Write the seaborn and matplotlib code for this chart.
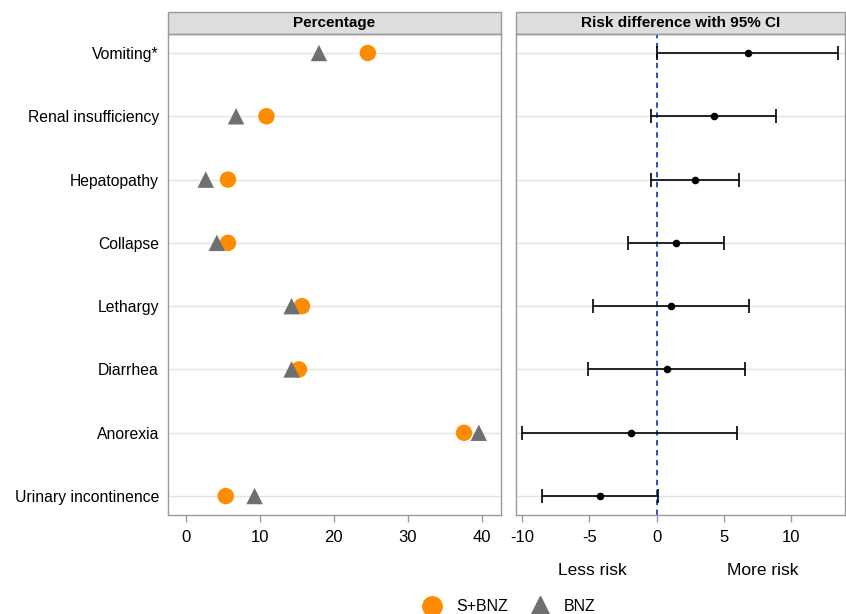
#!/usr/bin/env python3
"""adverse events: percentages by group and risk difference with 95% CI"""

import matplotlib.pyplot as plt
import numpy as np
import pandas as pd
import seaborn as sns
from matplotlib.lines import Line2D
from matplotlib.patches import Rectangle

events = ["Vomiting*", "Renal insufficiency", "Hepatopathy", "Collapse",
          "Lethargy", "Diarrhea", "Anorexia", "Urinary incontinence"]
pct_sbnz = [24.6, 10.9, 5.7, 5.7, 15.7, 15.3, 37.6, 5.4]
pct_bnz = [18.0, 6.8, 2.7, 4.2, 14.3, 14.3, 39.6, 9.3]
rd = [6.77, 4.24, 2.85, 1.41, 1.04, 0.74, -1.93, -4.20]
rd_low = [0.0, -0.45, -0.45, -2.16, -4.70, -5.13, -10.0, -8.50]
rd_high = [13.45, 8.85, 6.10, 4.98, 6.90, 6.60, 6.00, 0.07]

ORANGE = "#ff8c00"
GREY = "#6f6f6f"
EDGE = "#9a9a9a"

sns.set_theme(style="white")
plt.rcParams["font.family"] = ["Liberation Sans", "DejaVu Sans"]
plt.rcParams["axes.unicode_minus"] = False
plt.rcParams["text.color"] = "black"
plt.rcParams["xtick.labelcolor"] = "black"
plt.rcParams["ytick.labelcolor"] = "black"

row = np.arange(len(events))
pct = pd.DataFrame({
    "row": np.concatenate([row, row]),
    "value": pct_sbnz + pct_bnz,
    "group": ["S+BNZ"] * len(events) + ["BNZ"] * len(events),
})
risk = pd.DataFrame({"row": row, "rd": rd, "low": rd_low, "high": rd_high})

fig = plt.figure(figsize=(8.46, 6.14), dpi=100)
ax1 = fig.add_axes([0.1986, 0.1612, 0.3936, 0.7834])
ax2 = fig.add_axes([0.6099, 0.1612, 0.3889, 0.7834])


def frame(ax, title):
    for r in row:
        ax.axhline(r, color="#e3e3e3", lw=1, zorder=0)
    for s in ax.spines.values():
        s.set_color(EDGE)
        s.set_linewidth(1)
    ax.set_ylim(len(events) - 0.7, -0.3)
    ax.add_patch(Rectangle((0, 1), 1, 22 / 481, transform=ax.transAxes,
                           facecolor="#dedede", edgecolor=EDGE, lw=1,
                           clip_on=False))
    ax.text(0.5, 1 + 11 / 481, title, transform=ax.transAxes, ha="center",
            va="center", fontsize=11, fontweight="bold", color="black")
    ax.tick_params(axis="x", which="both", bottom=True, length=5, width=1,
                   color=EDGE, labelsize=12, pad=6, labelcolor="black")
    ax.tick_params(axis="y", length=0, labelcolor="black")
    ax.set_xlabel("")
    ax.set_ylabel("")


# left panel: percentages
sns.scatterplot(data=pct, x="value", y="row", hue="group", style="group",
                palette={"S+BNZ": ORANGE, "BNZ": GREY},
                markers={"S+BNZ": "o", "BNZ": "^"},
                hue_order=["S+BNZ", "BNZ"], s=140, linewidth=0,
                legend=False, ax=ax1, zorder=3)
frame(ax1, "Percentage")
ax1.set_xlim(-2.4, 42.6)
ax1.set_xticks([0, 10, 20, 30, 40])
ax1.set_yticks(row)
ax1.set_yticklabels(events, fontsize=11.3)
ax1.tick_params(axis="y", pad=6.5)

# right panel: risk difference
ax2.errorbar(risk["rd"], risk["row"],
             xerr=[risk["rd"] - risk["low"], risk["high"] - risk["rd"]],
             fmt="none", ecolor="black", elinewidth=1.2, capsize=5,
             capthick=1.2, zorder=3)
sns.scatterplot(data=risk, x="rd", y="row", color="black", s=30,
                linewidth=0, ax=ax2, zorder=4)
frame(ax2, "Risk difference with 95% CI")
ax2.axvline(0, color="#1f3fbf", lw=1.3, ls=(0, (3, 2.5)), zorder=2)
ax2.set_xlim(-10.45, 14.0)
ax2.set_xticks([-10, -5, 0, 5, 10])
ax2.set_yticks(row)
ax2.set_yticklabels([])
ax2.text(-4.8, -0.115, "Less risk", transform=ax2.get_xaxis_transform(),
         ha="center", va="center", fontsize=12.5)
ax2.text(7.9, -0.115, "More risk", transform=ax2.get_xaxis_transform(),
         ha="center", va="center", fontsize=12.5)

handles = [
    Line2D([], [], ls="none", marker="o", ms=14, color=ORANGE, label="S+BNZ"),
    Line2D([], [], ls="none", marker="^", ms=15, color=GREY, label="BNZ"),
]
fig.legend(handles=handles, loc="center", bbox_to_anchor=(0.598, 0.012),
           ncol=2, frameon=False, fontsize=11.5, handletextpad=0.5,
           columnspacing=1.0)

fig.savefig("out.png", dpi=100)
